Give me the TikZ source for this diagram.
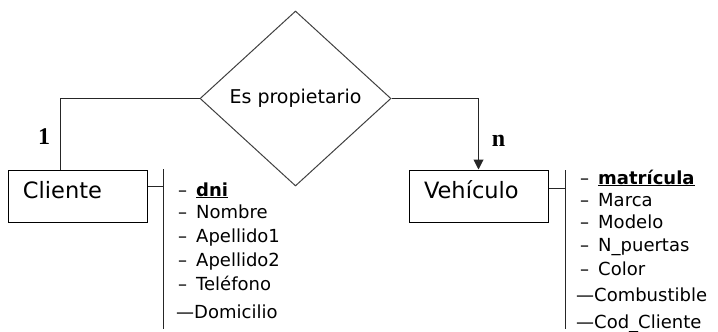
\documentclass[tikz,border=0pt]{standalone}
\usepackage{fontspec}
\setmainfont{DejaVu Sans}
\newfontfamily\cardfont{Liberation Serif}
\usetikzlibrary{arrows.meta,shapes.geometric}

\begin{document}
\begin{tikzpicture}[x=1pt,y=-1pt]
	\tikzstyle{entity}=[draw,rectangle,line width=1pt,minimum width=139pt,minimum height=52pt,inner xsep=15pt,inner ysep=0pt,text width=109pt,align=left,text height=28pt,text depth=24pt,font=\fontsize{22.5}{26}\selectfont]
	\tikzstyle{relation}=[draw,diamond,line width=1pt,draw=black!75,minimum width=191pt,minimum height=175pt,inner sep=0pt,font=\fontsize{19}{22}\selectfont]
	\tikzstyle{attr}=[anchor=base west,inner sep=0pt,font=\fontsize{18}{21}\selectfont]
	\tikzstyle{card}=[inner sep=0pt,font=\cardfont\bfseries\fontsize{24}{24}\selectfont]
	\tikzstyle{link}=[line width=1pt,draw=black!85]
	\tikzstyle{owns}=[link,-{Triangle[length=10pt,width=10pt]}]
	\useasboundingbox (0,0) rectangle (718,332);
	\node (rel) at (295.5,98.5) [relation] {Es propietario};
	\node (cli) at (77.5,196) [entity] {Cliente};
	\node (veh) at (478.5,196) [entity] {Vehículo};
	\draw [link] (rel.west) -| ([xshift=-17.5pt]cli.north);
	\draw [owns] (rel.east) -| (veh.north);
	\node (one) at (44,136.5) [card] {1};
	\node (many) at (498.5,140.5) [card] {n};
	\coordinate (clitop) at (163,169);
	\coordinate (clibot) at (163,329);
	\coordinate (vehtop) at (565,170);
	\coordinate (vehbot) at (565,329);
	\draw [link] (clitop) -- (clibot);
	\draw [link] ([yshift=10pt]cli.east) -- ([yshift=10pt]cli.east -| clitop);
	\draw [link] (vehtop) -- (vehbot);
	\draw [link] ([yshift=8pt]veh.east) -- ([yshift=8pt]veh.east -| vehtop);
	\node (dni) at (178,196) [attr] {–\enspace\underline{\textbf{dni}}};
	\node (nombre) at (178,218.5) [attr] {–\enspace Nombre};
	\node (ape1) at (178,242.5) [attr] {–\enspace Apellido1};
	\node (ape2) at (178,266.5) [attr] {–\enspace Apellido2};
	\node (tel) at (178,290) [attr] {–\enspace Teléfono};
	\node (dom) at (176,318) [attr] {—Domicilio};
	\node (mat) at (580,184) [attr] {–\enspace\underline{\textbf{matrícula}}};
	\node (marca) at (580,206.5) [attr] {–\enspace Marca};
	\node (modelo) at (580,228.5) [attr] {–\enspace Modelo};
	\node (puertas) at (580,251.5) [attr] {–\enspace N\_puertas};
	\node (color) at (580,275) [attr] {–\enspace Color};
	\node (comb) at (576,301.5) [attr] {—Combustible};
	\node (codcli) at (576,328.5) [attr] {—Cod\_Cliente};
\end{tikzpicture}
\end{document}
